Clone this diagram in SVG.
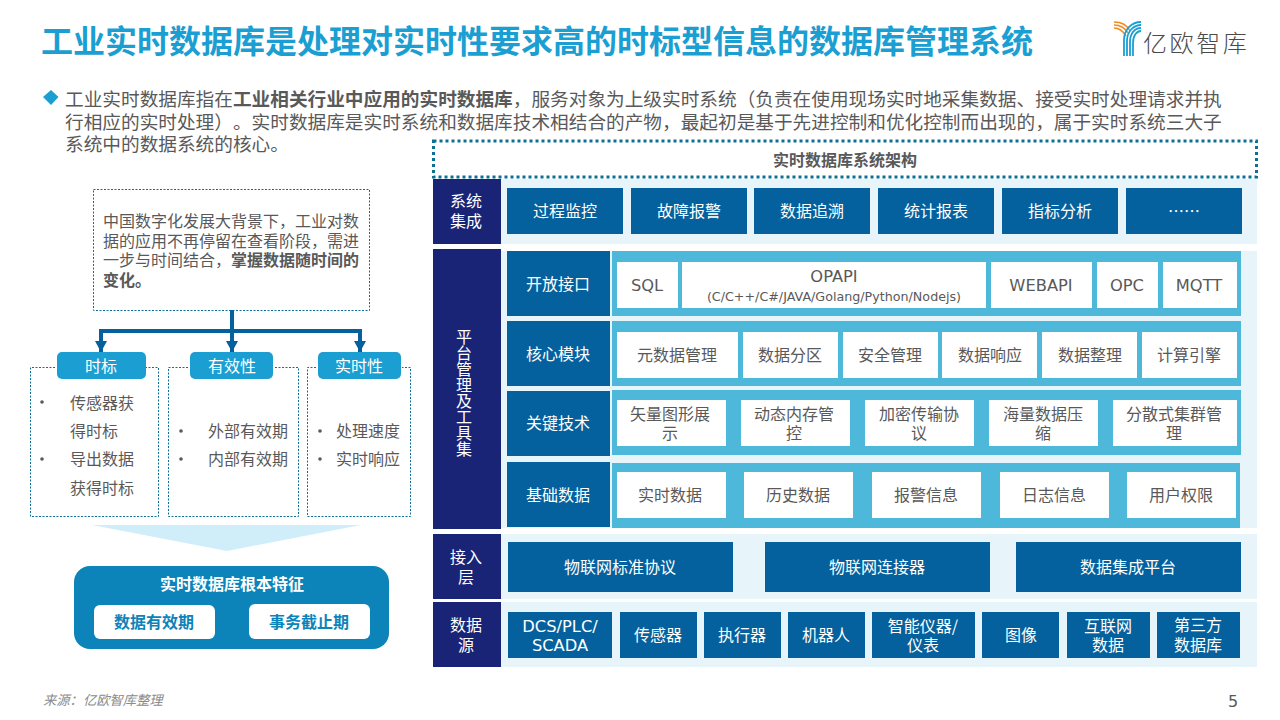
<svg xmlns="http://www.w3.org/2000/svg" width="1280" height="720" viewBox="0 0 1280 720">
<style>
text{font-family:"Noto Sans CJK SC","Noto Sans",sans-serif;font-size:16px;fill:#595959;text-spacing-trim:space-all}
.c{text-anchor:middle;dominant-baseline:central;transform:translateY(-1px)}
.m{dominant-baseline:central;transform:translateY(-1px)}
.l{fill:#fff;font-size:16px}
.lat{font-family:"DejaVu Sans","Noto Sans CJK SC",sans-serif;font-size:16.300px}
.b{font-weight:700}
.navy{fill:#1a2476}
.blue{fill:#05619d}
.teal{fill:#4eb8db}
.pale{fill:#e7f5fa}
.white{fill:#fff}
.pill{fill:#1b9fd3}
.dot{fill:none;stroke:#0e6f96;stroke-width:1;stroke-dasharray:2 1.5}
.para{font-size:18.67px}
.conn{fill:none;stroke:#05619d;stroke-width:4}
.logo-o{fill:none;stroke:#f28c1e;stroke-width:1.6}
.logo-b{fill:none;stroke:#1b9fd3;stroke-width:1.8}
.bul{fill:#595959}
</style>
<defs>
<marker id="ah" markerUnits="userSpaceOnUse" markerWidth="12" markerHeight="12" refX="11" refY="6" orient="auto"><path d="M0 0L11 6L0 12Z" fill="#05619d"/></marker>
</defs>
<g id="title">
<text x="41" y="53" class="b" style="font-size:32px;fill:#1b9fd3">工业实时数据库是处理对实时性要求高的时标型信息的数据库管理系统</text>
</g>
<g id="logo">
<path class="logo-o" d="M1114 22C1121 22 1127 25 1130 31M1114 25C1120 25 1125 28 1128 33M1114 28C1119 28 1123 31 1126 36"/>
<path class="logo-b" d="M1141 22C1132 22 1124 29 1124 40V56M1141 25C1134 25 1127 31 1127 41V56M1141 28C1135 28 1130 33 1130 42V56M1141 31C1137 31 1133 35 1133 43V56"/>
<text x="1143" y="52" style="font-size:24px;font-weight:300;fill:#4a4a4a;letter-spacing:2.6px">亿欧智库</text>
</g>
<g id="intro">
<path d="M43 97L51 90L58.500 97L51 105Z" fill="#1b9fd3"/>
<text class="para"><tspan x="65" y="106">工业实时数据库指在<tspan class="b">工业相关行业中应用的实时数据库</tspan>，服务对象为上级实时系统（负责在使用现场实时地采集数据、接受实时处理请求并执</tspan><tspan x="65" y="129">行相应的实时处理）。实时数据库是实时系统和数据库技术相结合的产物，最起初是基于先进控制和优化控制而出现的，属于实时系统三大子</tspan><tspan x="65" y="151">系统中的数据系统的核心。</tspan></text>
</g>
<g id="background-box">
<rect x="93.500" y="189.500" width="276" height="121" class="dot"/>
<text><tspan x="103" y="227">中国数字化发展大背景下，工业对数</tspan><tspan x="103" y="247">据的应用不再停留在查看阶段，需进</tspan><tspan x="103" y="266">一步与时间结合，<tspan class="b">掌握数据随时间的</tspan></tspan><tspan x="103" y="286" class="b">变化。</tspan></text>
</g>
<g id="connectors">
<path class="conn" d="M232 310V352" marker-end="url(#ah)"/>
<path class="conn" d="M232 331H101V352" marker-end="url(#ah)"/>
<path class="conn" d="M232 331H360V352" marker-end="url(#ah)"/>
</g>
<g id="timestamp">
<path class="dot" d="M55 367.500H30.500V516.500H158.500V367.500H146"/>
<rect x="57" y="352" width="89" height="27" rx="5" class="pill"/>
<text x="101" y="366" class="c l">时标</text>
<circle cx="42" cy="402" r="1.800" class="bul"/>
<circle cx="42" cy="459" r="1.800" class="bul"/>
<text class="m"><tspan x="70" y="403">传感器获</tspan><tspan x="70" y="431">得时标</tspan><tspan x="70" y="459">导出数据</tspan><tspan x="70" y="488">获得时标</tspan></text>
</g>
<g id="validity">
<path class="dot" d="M188 367.500H168.500V516.500H298.500V367.500H274"/>
<rect x="190" y="352" width="83" height="27" rx="5" class="pill"/>
<text x="232" y="366" class="c l">有效性</text>
<circle cx="181" cy="431" r="1.800" class="bul"/>
<circle cx="181" cy="459" r="1.800" class="bul"/>
<text class="m"><tspan x="208" y="431">外部有效期</tspan><tspan x="208" y="459">内部有效期</tspan></text>
</g>
<g id="realtime">
<path class="dot" d="M316 367.500H307.500V516.500H410.500V367.500H402"/>
<rect x="318" y="352" width="83" height="27" rx="5" class="pill"/>
<text x="359" y="366" class="c l">实时性</text>
<circle cx="320" cy="431" r="1.800" class="bul"/>
<circle cx="320" cy="459" r="1.800" class="bul"/>
<text class="m"><tspan x="336" y="431">处理速度</tspan><tspan x="336" y="459">实时响应</tspan></text>
</g>
<g id="down-arrow"><path d="M92 525H361L227 551Z" fill="#cfeef9"/></g>
<g id="core-features">
<rect x="74" y="566" width="315" height="83" rx="16" fill="#0c83b9"/>
<text x="232" y="584" class="c b" style="fill:#fff">实时数据库根本特征</text>
<rect x="94" y="605" width="121" height="34" rx="6" class="white"/>
<rect x="249" y="604" width="121" height="35" rx="6" class="white"/>
<text x="154" y="622" class="c b" style="fill:#0c83b9">数据有效期</text>
<text x="309" y="622" class="c b" style="fill:#0c83b9">事务截止期</text>
</g>
<g id="source"><text x="43" y="705" style="font-size:13.300px;font-style:italic;fill:#8c8c8c">来源：亿欧智库整理</text></g>
<g id="page"><text x="1228" y="707" class="lat" style="font-size:16px">5</text></g>

<g id="arch-header">
<rect x="433.500" y="141" width="823" height="36" fill="none" stroke="#0e6f96" stroke-width="3" stroke-dasharray="3 3"/>
<text x="845" y="159.500" class="c b">实时数据库系统架构</text>
</g>
<g id="layer-system">
<rect x="501" y="179" width="756" height="65" class="pale"/>
<rect x="433" y="179" width="68" height="65" class="navy"/>
<text class="c l"><tspan x="466" y="201">系统</tspan><tspan x="466" y="221">集成</tspan></text>
<rect x="507" y="188" width="116" height="46" class="blue"/><text x="565" y="211" class="c l">过程监控</text>
<rect x="631" y="188" width="116" height="46" class="blue"/><text x="689" y="211" class="c l">故障报警</text>
<rect x="754" y="188" width="116" height="46" class="blue"/><text x="812" y="211" class="c l">数据追溯</text>
<rect x="878" y="188" width="116" height="46" class="blue"/><text x="936" y="211" class="c l">统计报表</text>
<rect x="1002" y="188" width="116" height="46" class="blue"/><text x="1060" y="211" class="c l">指标分析</text>
<rect x="1126" y="188" width="116" height="46" class="blue"/><text x="1184" y="211" class="c l">……</text>
</g>
<g id="layer-platform">
<rect x="501" y="251" width="756" height="277" class="pale"/>
<rect x="433" y="249" width="68" height="280" class="navy"/>
<text x="464" y="329" class="l" style="writing-mode:vertical-rl">平台管理及工具集</text>
</g>
<g id="row-interface">
<rect x="507" y="251" width="103" height="65" class="blue"/><text x="558" y="284" class="c l">开放接口</text>
<rect x="612" y="251" width="629" height="65" class="teal"/>
<rect x="617" y="262" width="61" height="46" class="white"/><text x="647" y="286" class="c lat">SQL</text>
<rect x="682" y="262" width="304" height="46" class="white"/><text class="c"><tspan x="834" y="277" class="lat">OPAPI</tspan><tspan x="834" y="297" class="lat" style="font-size:12.700px">(C/C++/C#/JAVA/Golang/Python/Nodejs)</tspan></text>
<rect x="991" y="262" width="101" height="46" class="white"/><text x="1041" y="286" class="c lat">WEBAPI</text>
<rect x="1097" y="262" width="61" height="46" class="white"/><text x="1127" y="286" class="c lat">OPC</text>
<rect x="1163" y="262" width="74" height="46" class="white"/><text x="1199" y="286" class="c lat">MQTT</text>
</g>
<g id="row-core">
<rect x="507" y="321" width="103" height="65" class="blue"/><text x="558" y="354" class="c l">核心模块</text>
<rect x="612" y="321" width="629" height="65" class="teal"/>
<rect x="617" y="332" width="121" height="46" class="white"/><text x="677" y="355" class="c">元数据管理</text>
<rect x="743" y="332" width="95" height="46" class="white"/><text x="790" y="355" class="c">数据分区</text>
<rect x="843" y="332" width="95" height="46" class="white"/><text x="890" y="355" class="c">安全管理</text>
<rect x="942" y="332" width="95" height="46" class="white"/><text x="990" y="355" class="c">数据响应</text>
<rect x="1042" y="332" width="95" height="46" class="white"/><text x="1090" y="355" class="c">数据整理</text>
<rect x="1142" y="332" width="95" height="46" class="white"/><text x="1189" y="355" class="c">计算引擎</text>
</g>
<g id="row-tech">
<rect x="507" y="391" width="103" height="65" class="blue"/><text x="558" y="423" class="c l">关键技术</text>
<rect x="612" y="390" width="629" height="65" class="teal"/>
<rect x="617" y="400" width="109" height="46" class="white"/><text class="c"><tspan x="670" y="414">矢量图形展</tspan><tspan x="670" y="433">示</tspan></text>
<rect x="741" y="400" width="109" height="46" class="white"/><text class="c"><tspan x="794" y="414">动态内存管</tspan><tspan x="794" y="433">控</tspan></text>
<rect x="865" y="400" width="109" height="46" class="white"/><text class="c"><tspan x="919" y="414">加密传输协</tspan><tspan x="919" y="433">议</tspan></text>
<rect x="989" y="400" width="109" height="46" class="white"/><text class="c"><tspan x="1043" y="414">海量数据压</tspan><tspan x="1043" y="433">缩</tspan></text>
<rect x="1113" y="400" width="124" height="46" class="white"/><text class="c"><tspan x="1174" y="414">分散式集群管</tspan><tspan x="1174" y="433">理</tspan></text>
</g>
<g id="row-base">
<rect x="507" y="462" width="103" height="65" class="blue"/><text x="558" y="495" class="c l">基础数据</text>
<rect x="612" y="463" width="628" height="65" class="teal"/>
<rect x="617" y="472" width="109" height="46" class="white"/><text x="670" y="495" class="c">实时数据</text>
<rect x="744" y="472" width="109" height="46" class="white"/><text x="798" y="495" class="c">历史数据</text>
<rect x="872" y="472" width="109" height="46" class="white"/><text x="926" y="495" class="c">报警信息</text>
<rect x="1000" y="472" width="109" height="46" class="white"/><text x="1054" y="495" class="c">日志信息</text>
<rect x="1127" y="472" width="109" height="46" class="white"/><text x="1181" y="495" class="c">用户权限</text>
</g>
<g id="layer-access">
<rect x="501" y="534" width="756" height="65" class="pale"/>
<rect x="433" y="534" width="68" height="65" class="navy"/>
<text class="c l"><tspan x="466" y="557">接入</tspan><tspan x="466" y="577">层</tspan></text>
<rect x="508" y="542" width="225" height="50" class="blue"/><text x="620" y="567" class="c l">物联网标准协议</text>
<rect x="765" y="542" width="225" height="50" class="blue"/><text x="877" y="567" class="c l">物联网连接器</text>
<rect x="1016" y="542" width="225" height="50" class="blue"/><text x="1128" y="567" class="c l">数据集成平台</text>
</g>
<g id="layer-source">
<rect x="501" y="602" width="756" height="65" class="pale"/>
<rect x="433" y="602" width="68" height="65" class="navy"/>
<text class="c l"><tspan x="466" y="625">数据</tspan><tspan x="466" y="645">源</tspan></text>
<rect x="508" y="612" width="104" height="46" class="blue"/><text class="c l lat"><tspan x="560" y="627">DCS/PLC/</tspan><tspan x="560" y="646">SCADA</tspan></text>
<rect x="620" y="612" width="77" height="46" class="blue"/><text x="658" y="635" class="c l">传感器</text>
<rect x="704" y="612" width="77" height="46" class="blue"/><text x="742" y="635" class="c l">执行器</text>
<rect x="788" y="612" width="77" height="46" class="blue"/><text x="826" y="635" class="c l">机器人</text>
<rect x="872" y="612" width="103" height="46" class="blue"/><text class="c l"><tspan x="923" y="626">智能仪器/</tspan><tspan x="923" y="645">仪表</tspan></text>
<rect x="982" y="612" width="77" height="46" class="blue"/><text x="1021" y="635" class="c l">图像</text>
<rect x="1067" y="612" width="83" height="46" class="blue"/><text class="c l"><tspan x="1108" y="626">互联网</tspan><tspan x="1108" y="645">数据</tspan></text>
<rect x="1157" y="612" width="83" height="46" class="blue"/><text class="c l"><tspan x="1198" y="625">第三方</tspan><tspan x="1198" y="645">数据库</tspan></text>
</g>
</svg>
